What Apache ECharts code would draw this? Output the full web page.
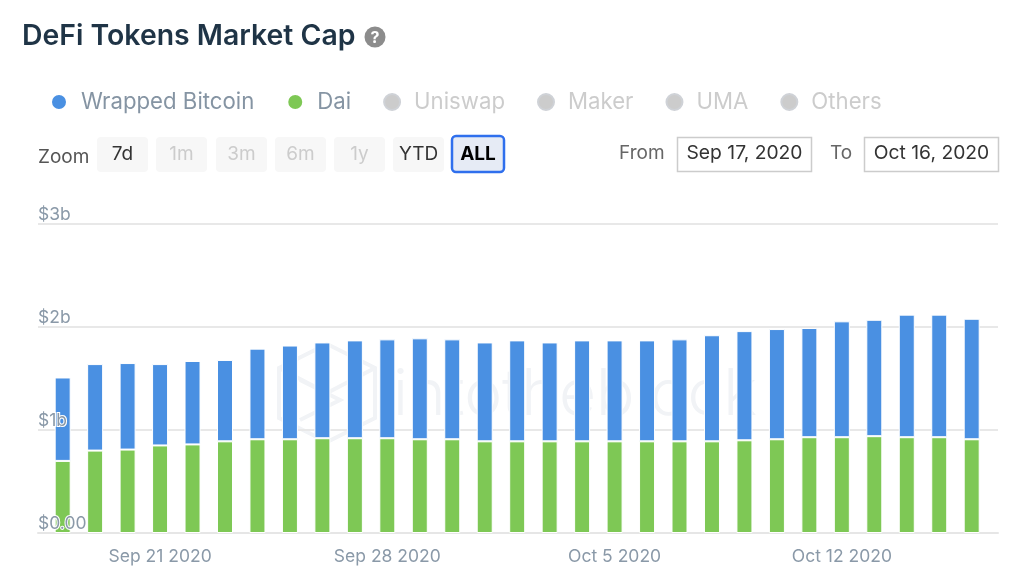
<!DOCTYPE html>
<html>
<head>
<meta charset="utf-8">
<title>DeFi Tokens Market Cap</title>
<style>
html, body { margin: 0; padding: 0; background: #fff; }
#main { width: 1030px; height: 580px; }
</style>
<script src="https://cdn.jsdelivr.net/npm/echarts@6/dist/echarts.min.js"></script>
</head>
<body>
<div id="main"></div>
<script>
// one bar per day, values in billions of dollars
const dates = [
  '2020-09-18', '2020-09-19', '2020-09-20', '2020-09-21', '2020-09-22', '2020-09-23',
  '2020-09-24', '2020-09-25', '2020-09-26', '2020-09-27', '2020-09-28', '2020-09-29',
  '2020-09-30', '2020-10-01', '2020-10-02', '2020-10-03', '2020-10-04', '2020-10-05',
  '2020-10-06', '2020-10-07', '2020-10-08', '2020-10-09', '2020-10-10', '2020-10-11',
  '2020-10-12', '2020-10-13', '2020-10-14', '2020-10-15', '2020-10-16'
];
const dai = [
  0.70, 0.80, 0.81, 0.85, 0.86, 0.89, 0.91, 0.91, 0.92, 0.92,
  0.92, 0.91, 0.91, 0.89, 0.89, 0.89, 0.89, 0.89, 0.89, 0.89,
  0.89, 0.90, 0.91, 0.93, 0.93, 0.94, 0.93, 0.93, 0.91
];
const wrappedBitcoin = [
  0.81, 0.84, 0.84, 0.79, 0.81, 0.79, 0.88, 0.91, 0.93, 0.95,
  0.96, 0.98, 0.97, 0.96, 0.98, 0.96, 0.98, 0.98, 0.98, 0.99,
  1.03, 1.06, 1.07, 1.06, 1.125, 1.13, 1.19, 1.19, 1.17
];
// switched off in the legend, so nothing can be read for them
const uniswap = [];
const maker = [];
const uma = [];
const others = [];

const yTickLabels = ['$0.00', '$1b', '$2b', '$3b'];
const xTickDates = ['2020-09-21', '2020-09-28', '2020-10-05', '2020-10-12'];
const xTickLabels = ['Sep 21 2020', 'Sep 28 2020', 'Oct 5 2020', 'Oct 12 2020'];
const zoomButtons = ['7d', '1m', '3m', '6m', '1y', 'YTD', 'ALL'];
const zoomDisabled = ['1m', '3m', '6m', '1y'];
const fromDate = 'Sep 17, 2020';
const toDate = 'Oct 16, 2020';

const FONT = 'Inter, "Noto Sans", sans-serif';
const DAY = 86400000;
const BAR_WIDTH = 16;
const PLOT_WIDTH = 960;
const ts = (d) => Date.parse(d + 'T00:00:00Z');
const xTicks = xTickDates.map(ts);
const xMin = ts(dates[0]) - 0.76 * DAY;
const xMax = ts(dates[dates.length - 1]) + 0.81 * DAY;
// echarts widens a time axis by half a bar on each side, so ask for that much less
const barPad = (xMax - xMin) * (BAR_WIDTH / PLOT_WIDTH) / 2;

function pairs(values) {
  return values.map((v, i) => [ts(dates[i]), v]);
}

function barSeries(name, values, color) {
  return {
    name: name,
    type: 'bar',
    stack: 'cap',
    barWidth: BAR_WIDTH,
    data: pairs(values),
    itemStyle: { color: color, borderColor: '#fff', borderWidth: 1 }
  };
}

function label(text, x, y, size, color, extra) {
  return {
    type: 'text', x: x, y: y, z: 10,
    style: Object.assign({
      text: text, fontFamily: FONT, fontSize: size, fill: color,
      verticalAlign: 'middle'
    }, extra || {})
  };
}

// range buttons: [left, width]
const buttonBoxes = [[97, 51], [156, 51], [216, 51], [275, 51], [334, 51], [393, 51], [452, 52]];
const controls = [];
zoomButtons.forEach((name, i) => {
  const box = buttonBoxes[i];
  const active = name === 'ALL';
  controls.push({
    type: 'rect', z: 10,
    shape: { x: box[0], y: active ? 136 : 137, width: box[1], height: active ? 36 : 35, r: 4 },
    style: active
      ? { fill: '#e6ebf5', stroke: '#2f6fed', lineWidth: 2.5 }
      : { fill: '#f7f7f7' }
  });
  controls.push(label(name, box[0] + box[1] / 2, 154, 19,
    active ? '#000' : (zoomDisabled.includes(name) ? '#cccccc' : '#333333'),
    { align: 'center', fontWeight: active ? 700 : 400 }));
});
controls.push(label('Zoom', 38, 157, 19, '#555555'));
controls.push(label('From', 619, 153, 19, '#666666'));
controls.push(label('To', 830, 153, 19, '#666666'));
[[677.5, fromDate], [864.5, toDate]].forEach((d) => {
  controls.push({
    type: 'rect', z: 10,
    shape: { x: d[0], y: 137.5, width: 134, height: 34 },
    style: { fill: '#fff', stroke: '#cccccc', lineWidth: 1.5 }
  });
  controls.push(label(d[1], d[0] + 67, 153.5, 19.3, '#333333', { align: 'center' }));
});
// help icon next to the title
controls.push({ type: 'circle', z: 10, shape: { cx: 375, cy: 37, r: 10.5 }, style: { fill: '#8c8c8c' } });
controls.push(label('?', 375, 38, 16, '#fff', { align: 'center', fontWeight: 700 }));

// faint watermark behind the bars
const WM = '#f1f3f6';
const watermark = [
  {
    type: 'polygon', z: -1,
    shape: { points: [[327, 344], [375, 368], [375, 418], [327, 442], [279, 418], [279, 368]] },
    style: { fill: 'none', stroke: WM, lineWidth: 4 }
  },
  {
    type: 'polyline', z: -1,
    shape: { points: [[279, 368], [327, 393], [375, 368]] },
    style: { fill: 'none', stroke: WM, lineWidth: 4 }
  },
  {
    type: 'polyline', z: -1,
    shape: { points: [[300, 380], [340, 400], [300, 420]] },
    style: { fill: 'none', stroke: WM, lineWidth: 4 }
  },
  {
    type: 'text', z: -1, x: 393, y: 396,
    style: {
      text: 'intotheblock', fontFamily: FONT, fontSize: 64, fontWeight: 300,
      fill: WM, verticalAlign: 'middle'
    }
  }
];

const myChart = echarts.init(document.getElementById('main'));
const option = {
  backgroundColor: '#fff',
  animation: false,
  title: {
    text: 'DeFi Tokens Market Cap',
    left: 22,
    top: 22,
    padding: 0,
    textStyle: { fontFamily: FONT, fontSize: 28.4, fontWeight: 600, color: '#1f3446' }
  },
  legend: {
    left: 50,
    top: 91,
    padding: 0,
    icon: 'circle',
    itemWidth: 16,
    itemHeight: 16,
    itemGap: 32,
    inactiveColor: '#cccccc',
    inactiveBorderWidth: 0,
    textStyle: { fontFamily: FONT, fontSize: 22.2, color: '#8594a3', padding: [0, 0, 4, 9] },
    data: ['Wrapped Bitcoin', 'Dai', 'Uniswap', 'Maker', 'UMA', 'Others'],
    selected: { Uniswap: false, Maker: false, UMA: false, Others: false }
  },
  grid: { left: 38, right: 32, top: 224, bottom: 47 },
  xAxis: [
    {
      // the bars stack on this one
      type: 'time',
      min: xMin + barPad,
      max: xMax - barPad,
      axisLine: { lineStyle: { color: '#e6e6e6', width: 2 } },
      axisTick: { show: false },
      axisLabel: { show: false },
      splitLine: { show: false }
    },
    {
      // same range as timestamps, only carries the weekly labels
      type: 'value',
      position: 'bottom',
      min: xMin,
      max: xMax,
      axisLine: { show: false },
      axisTick: { show: false },
      splitLine: { show: false },
      axisLabel: {
        customValues: xTicks,
        margin: 15,
        fontFamily: FONT,
        fontSize: 17.5,
        color: '#8a99a8',
        formatter: (value) => xTickLabels[xTicks.indexOf(value)]
      }
    }
  ],
  yAxis: [
    {
      // gridlines stay behind the bars
      type: 'value', min: 0, max: 3, interval: 1, z: 0,
      axisLine: { show: false },
      axisTick: { show: false },
      axisLabel: { show: false },
      splitLine: { lineStyle: { color: '#e8e8e8', width: 2 } }
    },
    {
      // tick labels sit on top of the bars
      type: 'value', position: 'left', min: 0, max: 3, interval: 1, z: 5,
      axisLine: { show: false },
      axisTick: { show: false },
      splitLine: { show: false },
      axisLabel: {
        inside: true,
        margin: 0,
        verticalAlign: 'bottom',
        fontFamily: FONT,
        fontSize: 17.5,
        color: '#8a99a8',
        textBorderColor: '#fff',
        textBorderWidth: 2,
        formatter: (value) => yTickLabels[value]
      }
    }
  ],
  series: [
    barSeries('Dai', dai, '#7ec855'),
    barSeries('Wrapped Bitcoin', wrappedBitcoin, '#4a90e2'),
    barSeries('Uniswap', uniswap, '#ffc107'),
    barSeries('Maker', maker, '#1aab9b'),
    barSeries('UMA', uma, '#ff4a68'),
    barSeries('Others', others, '#8e5bd0')
  ],
  graphic: { elements: watermark.concat(controls) }
};
myChart.setOption(option);
</script>
</body>
</html>
